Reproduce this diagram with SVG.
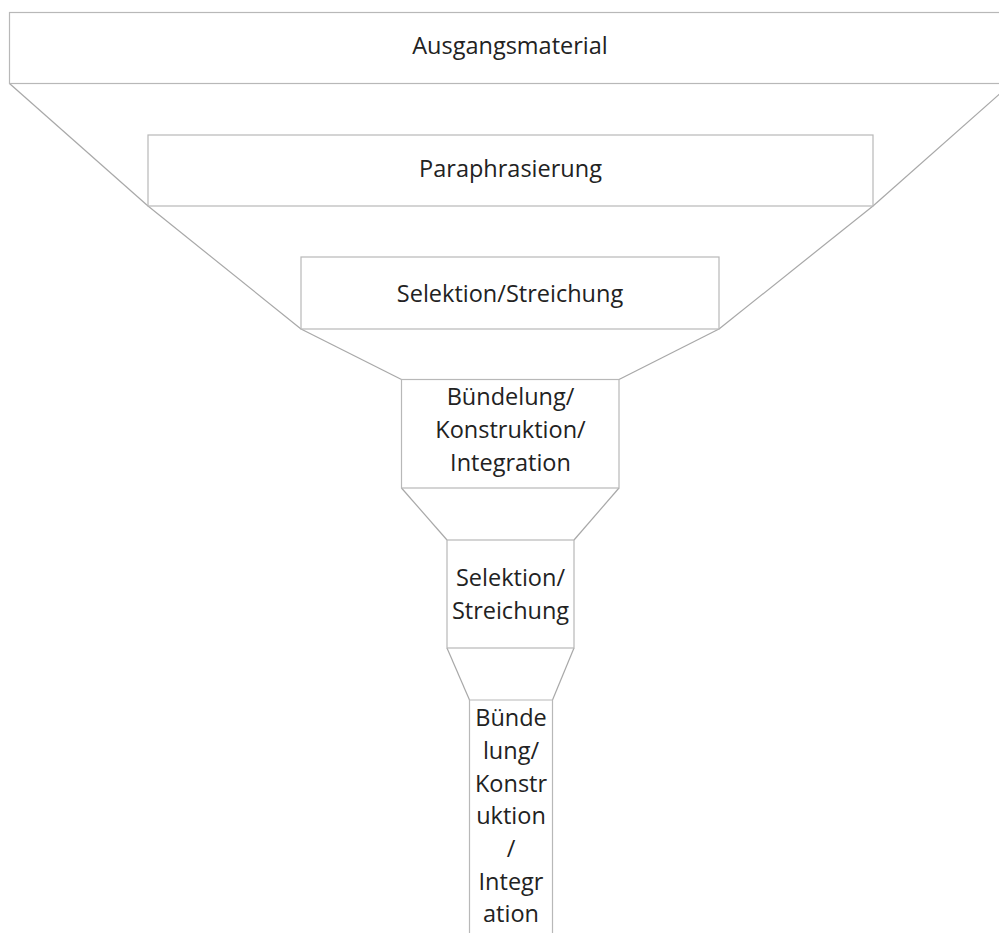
<svg xmlns="http://www.w3.org/2000/svg" width="999" height="933" viewBox="0 0 999 933">
  <style>
    .box { fill: #ffffff; stroke: #b8b8b8; stroke-width: 1.2; }
    .edge { fill: none; stroke: #a8a8a8; stroke-width: 1.2; }
    .label { font-family: "Open Sans", "Noto Sans", sans-serif; font-size: 23.5px; fill: #222222; text-anchor: middle; }
  </style>
  <rect width="999" height="933" fill="#ffffff"/>

  <!-- funnel walls joining the stages -->
  <g id="connectors">
    <line class="edge" x1="9.5" y1="83.5" x2="148" y2="206"/>
    <line class="edge" x1="1011.5" y1="83.5" x2="873" y2="206"/>
    <line class="edge" x1="148" y1="206" x2="301" y2="329"/>
    <line class="edge" x1="873" y1="206" x2="719" y2="329"/>
    <line class="edge" x1="301" y1="329" x2="401.5" y2="379.5"/>
    <line class="edge" x1="719" y1="329" x2="619" y2="379.5"/>
    <line class="edge" x1="401.5" y1="488" x2="447" y2="540"/>
    <line class="edge" x1="619" y1="488" x2="574" y2="540"/>
    <line class="edge" x1="447" y1="648" x2="469.5" y2="700"/>
    <line class="edge" x1="574" y1="648" x2="552.5" y2="700"/>
  </g>

  <g id="stage-ausgangsmaterial">
    <rect class="box" x="9.5" y="12.5" width="1002" height="71"/>
    <text class="label" x="510" y="54">Ausgangsmaterial</text>
  </g>

  <g id="stage-paraphrasierung">
    <rect class="box" x="148" y="135" width="725" height="71"/>
    <text class="label" x="510.5" y="177">Paraphrasierung</text>
  </g>

  <g id="stage-selektion-1">
    <rect class="box" x="301" y="257" width="418" height="72"/>
    <text class="label" x="510" y="302">Selektion/Streichung</text>
  </g>

  <g id="stage-buendelung-1">
    <rect class="box" x="401.5" y="379.5" width="217.5" height="108.5"/>
    <text class="label" x="510.5" y="405">Bündelung/</text>
    <text class="label" x="510.5" y="438">Konstruktion/</text>
    <text class="label" x="510.5" y="471">Integration</text>
  </g>

  <g id="stage-selektion-2">
    <rect class="box" x="447" y="540" width="127" height="108"/>
    <text class="label" x="510.5" y="586">Selektion/</text>
    <text class="label" x="510.5" y="619">Streichung</text>
  </g>

  <g id="stage-buendelung-2">
    <path class="box" d="M469.5 940 V700 H552.5 V940"/>
    <text class="label" x="511" y="726">Bünde</text>
    <text class="label" x="511" y="759">lung/</text>
    <text class="label" x="511" y="791.5">Konstr</text>
    <text class="label" x="511" y="824">uktion</text>
    <text class="label" x="511" y="857">/</text>
    <text class="label" x="511" y="889.5">Integr</text>
    <text class="label" x="511" y="922">ation</text>
  </g>
</svg>
